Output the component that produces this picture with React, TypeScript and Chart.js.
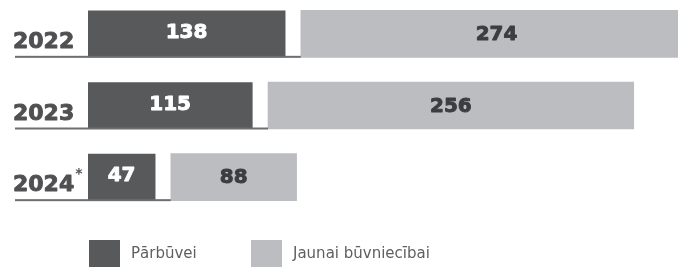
import React, { useEffect, useRef } from 'react';
import { Chart, registerables } from 'chart.js';

Chart.register(...registerables);

const years = ['2022', '2023', '2024*'];
const renovation = [138, 115, 47];
const newBuild = [274, 256, 88];
const seriesLabels = ['Pārbūvei', 'Jaunai būvniecībai'];

const GAP = 11; // white gap between the two segments, in value units
const X_MAX = 413;

const DARK = '#58595b';
const LIGHT = '#bcbdc0';
const TEXT_DARK = '#3d3d3f';
const YEAR_COLOR = '#505052';
const LINE_COLOR = '#6d6e71';
const FONT = '"DejaVu Sans", sans-serif';

function boldText(ctx: CanvasRenderingContext2D, text: string, x: number, y: number, color: string) {
  ctx.fillStyle = color;
  ctx.strokeStyle = color;
  ctx.lineWidth = 0.9;
  ctx.lineJoin = 'round';
  ctx.fillText(text, x, y);
  ctx.strokeText(text, x, y);
}

const overlay = {
  id: 'overlay',
  afterDatasetsDraw(chart: any) {
    const ctx = chart.ctx as CanvasRenderingContext2D;
    const m0 = chart.getDatasetMeta(0);
    const m1 = chart.getDatasetMeta(1);
    ctx.save();
    m0.data.forEach((bar: any, i: number) => {
      const d = bar.getProps(['x', 'y', 'base', 'height'], true);
      const l = m1.data[i].getProps(['x', 'y', 'base', 'height'], true);
      const bottom = d.y + d.height / 2;
      // underline from year label to the light segment
      ctx.fillStyle = LINE_COLOR;
      ctx.fillRect(15, bottom - 1, l.base - 15, 2);
      // year label
      const label: string = chart.data.labels[i];
      const star = label.endsWith('*');
      const yr = star ? label.slice(0, -1) : label;
      ctx.font = `bold 22px ${FONT}`;
      ctx.textAlign = 'left';
      ctx.textBaseline = 'alphabetic';
      boldText(ctx, yr, 13, bottom - 9, YEAR_COLOR);
      if (star) {
        const w = ctx.measureText(yr).width;
        ctx.font = `bold 14px ${FONT}`;
        ctx.fillStyle = YEAR_COLOR;
        ctx.fillText('*', 13 + w + 1, bottom - 22);
      }
      // values
      ctx.textAlign = 'center';
      ctx.textBaseline = 'middle';
      ctx.font = `bold 20px ${FONT}`;
      boldText(ctx, String(chart.data.datasets[0].data[i]), (d.x + d.base) / 2, d.y - 1, '#ffffff');
      boldText(ctx, String(newBuild[i]), (l.x + l.base) / 2, l.y + 1, TEXT_DARK);
    });
    // legend
    const legendY = 242;
    const items = [
      { x: 89, color: DARK, text: seriesLabels[0] },
      { x: 251, color: LIGHT, text: seriesLabels[1] },
    ];
    ctx.font = `15px ${FONT}`;
    ctx.textAlign = 'left';
    ctx.textBaseline = 'middle';
    items.forEach((it) => {
      ctx.fillStyle = it.color;
      ctx.fillRect(it.x, legendY, 31, 27);
      ctx.fillStyle = '#5e5f61';
      ctx.fillText(it.text, it.x + 42, legendY + 14);
    });
    ctx.restore();
  },
};

export default function App() {
  const ref = useRef<HTMLCanvasElement | null>(null);
  useEffect(() => {
    document.body.style.margin = '0';
    const chart = new Chart(ref.current!, {
      type: 'bar',
      data: {
        labels: years,
        datasets: [
          {
            label: seriesLabels[0],
            data: renovation,
            backgroundColor: DARK,
            barThickness: 46,
            grouped: false,
          },
          {
            label: seriesLabels[1],
            data: newBuild.map((v, i) => [renovation[i] + GAP, renovation[i] + GAP + v]) as any,
            backgroundColor: LIGHT,
            barThickness: 47,
            grouped: false,
          },
        ],
      },
      options: {
        indexAxis: 'y',
        animation: false,
        responsive: false,
        maintainAspectRatio: false,
        layout: { padding: { left: 88, right: 0, top: 0, bottom: 54 } },
        scales: {
          x: { display: false, min: 0, max: X_MAX },
          y: { display: false },
        },
        plugins: {
          legend: { display: false },
          tooltip: { enabled: false },
        },
      },
      plugins: [overlay],
    });
    return () => chart.destroy();
  }, []);
  return (
    <div style={{ width: 678, height: 267, overflow: 'hidden', position: 'relative', background: '#fff' }}>
      <canvas
        ref={ref}
        width={678}
        height={269}
        style={{ position: 'absolute', left: 0, top: -2, width: 678, height: 269, display: 'block' }}
      />
    </div>
  );
}
